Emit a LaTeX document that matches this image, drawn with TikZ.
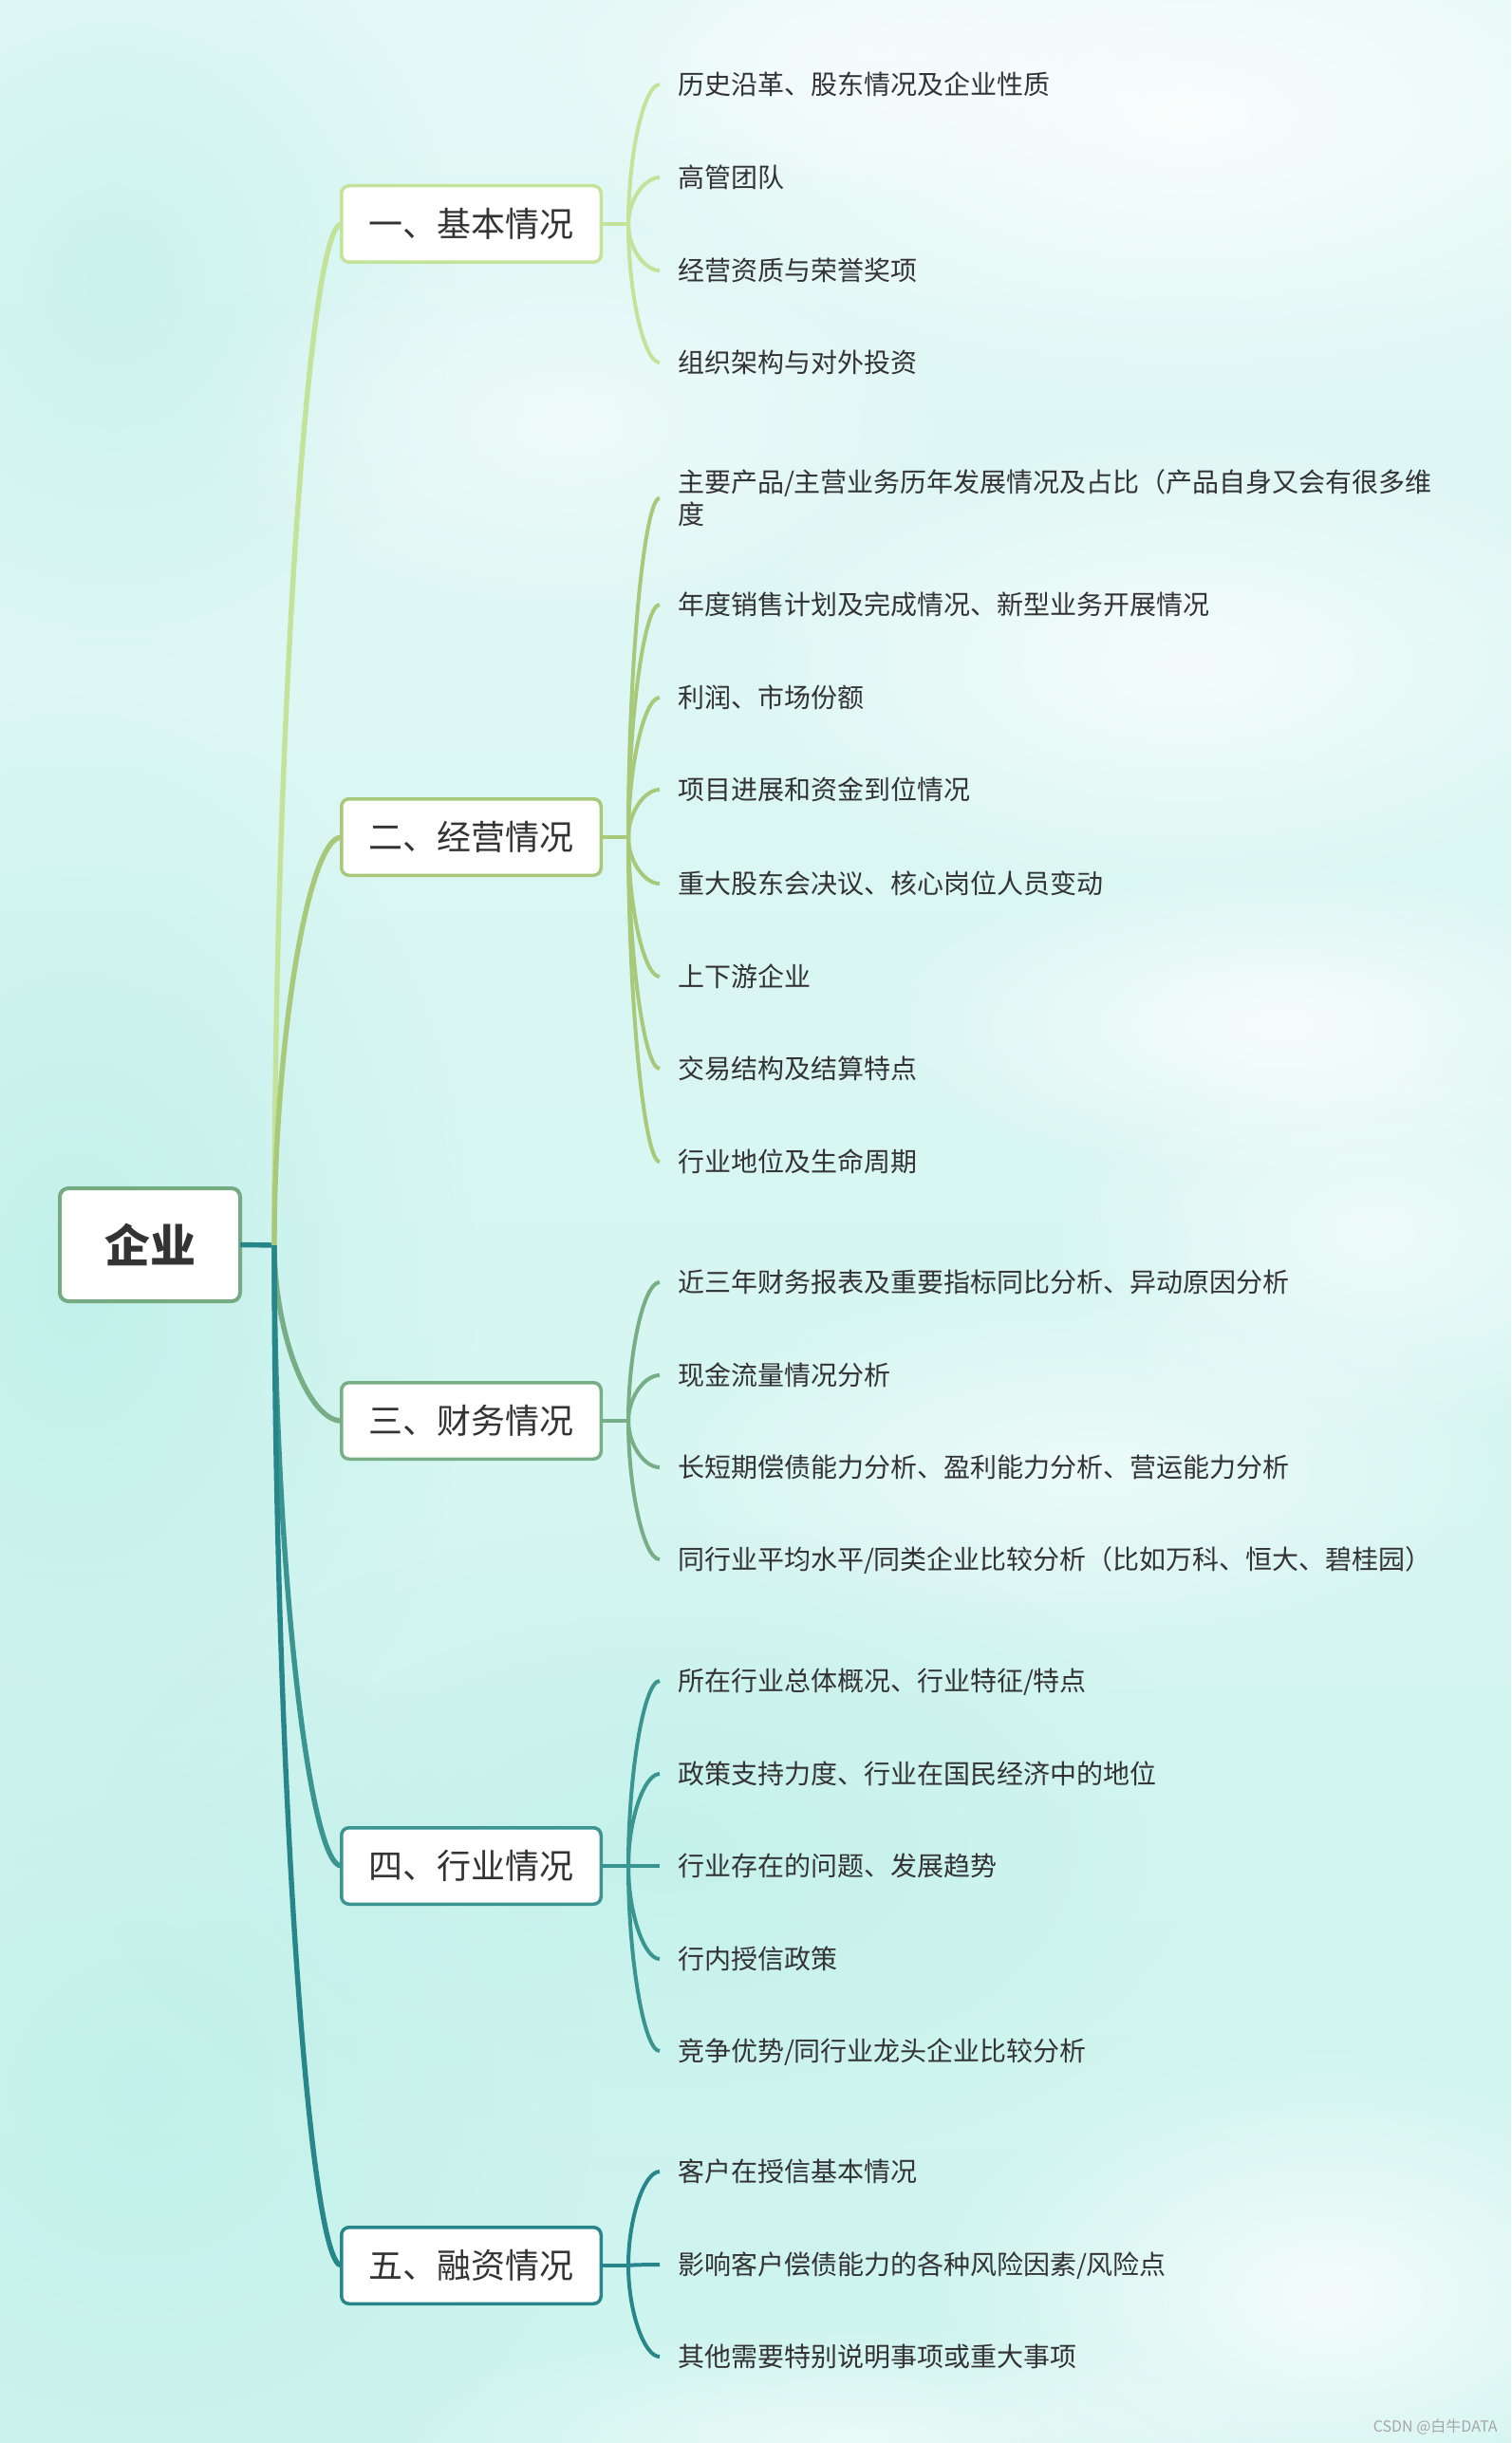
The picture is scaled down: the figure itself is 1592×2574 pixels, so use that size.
\documentclass[tikz,border=0pt]{standalone}
\usepackage{fontspec}
\setmainfont{Noto Sans CJK SC}
\usetikzlibrary{calc,fadings}

\definecolor{bgtop}{HTML}{E2F8F6}
\definecolor{bgmid}{HTML}{D3F4F0}
\definecolor{bgbot}{HTML}{CDF4EE}
\definecolor{cA}{HTML}{C3E29A}
\definecolor{cB}{HTML}{A8C87A}
\definecolor{cC}{HTML}{78AE86}
\definecolor{cD}{HTML}{3A9590}
\definecolor{cE}{HTML}{27868A}
\definecolor{rootc}{HTML}{76AA82}
\definecolor{txt}{HTML}{333333}
\definecolor{cyanish}{HTML}{BDEFE8}

\tikzfading[name=softblob, inner color=transparent!0, outer color=transparent!100]

\begin{document}
\begin{tikzpicture}[x=0.5pt,y=-0.5pt,
  rootbox/.style={draw=rootc, line width=2pt, fill=white, rounded corners=4.5pt,
    minimum width=95pt, minimum height=59.5pt, inner sep=0pt, outer sep=0pt,
    font=\fontsize{24}{28}\selectfont\bfseries, text=txt},
  branchbox/.style={draw=#1, line width=1.75pt, fill=white, rounded corners=4pt,
    minimum width=136.75pt, minimum height=40.25pt, inner sep=0pt, outer sep=0pt,
    font=\fontsize{18}{22}\selectfont, text=txt},
  leaf/.style={anchor=west, inner xsep=9.5pt, inner ysep=0pt, outer sep=0pt,
    font=\fontsize{14}{17}\selectfont, text=txt, text height=12.3pt, text depth=1.7pt},
  leaftwo/.style={anchor=west, inner xsep=9.5pt, inner ysep=0pt, outer sep=0pt,
    font=\fontsize{14}{17}\selectfont, text=txt, align=left},
  trunkline/.style={draw=#1, line width=2.7pt},
  leafline/.style={draw=#1, line width=2pt},
  cloud/.style={fill=white, fill opacity=#1, path fading=softblob},
  tint/.style={fill=cyanish, fill opacity=#1, path fading=softblob},
]
% background
\useasboundingbox (0,0) rectangle (1592,2574);
\shade[top color=bgtop, middle color=bgmid, bottom color=bgbot] (0,0) rectangle (1592,2574);
\fill[tint=0.8] (80,1350) ellipse [x radius=420, y radius=620];
\fill[tint=0.7] (150,2200) ellipse [x radius=480, y radius=480];
\fill[tint=0.6] (120,300) ellipse [x radius=360, y radius=400];
\fill[tint=0.6] (700,1950) ellipse [x radius=600, y radius=340];
\fill[cloud=0.8] (1250,120) ellipse [x radius=650, y radius=300];
\fill[cloud=0.5] (900,60) ellipse [x radius=400, y radius=160];
\fill[cloud=0.7] (1250,700) ellipse [x radius=500, y radius=240];
\fill[cloud=0.8] (1350,1080) ellipse [x radius=420, y radius=170];
\fill[cloud=0.6] (1450,1300) ellipse [x radius=340, y radius=220];
\fill[cloud=0.55] (1150,1550) ellipse [x radius=480, y radius=200];
\fill[cloud=0.8] (1400,2420) ellipse [x radius=420, y radius=260];
\fill[cloud=0.6] (900,2570) ellipse [x radius=500, y radius=120];
\fill[cloud=0.5] (600,450) ellipse [x radius=400, y radius=220];

% root and hubs
\node[rootbox] (root) at (158,1311.5) {企业};
\coordinate (hub) at (289,1312);

% branch boxes
\node[branchbox=cA] (b1) at (496.5,236) {一、基本情况};
\node[branchbox=cB] (b2) at (496.5,882) {二、经营情况};
\node[branchbox=cC] (b3) at (496.5,1497) {三、财务情况};
\node[branchbox=cD] (b4) at (496.5,1966) {四、行业情况};
\node[branchbox=cE] (b5) at (496.5,2387) {五、融资情况};

\coordinate (h1) at (662,236);
\coordinate (h2) at (662,882);
\coordinate (h3) at (662,1497);
\coordinate (h4) at (662,1966);
\coordinate (h5) at (662,2387);

% leaves
\node[leaf] (l11) at (695,89) {历史沿革、股东情况及企业性质};
\node[leaf] (l12) at (695,187) {高管团队};
\node[leaf] (l13) at (695,285) {经营资质与荣誉奖项};
\node[leaf] (l14) at (695,382) {组织架构与对外投资};

\node[leaftwo] (l21) at (695,525) {主要产品/主营业务历年发展情况及占比（产品自身又会有很多维\\度};
\node[leaf] (l22) at (695,637) {年度销售计划及完成情况、新型业务开展情况};
\node[leaf] (l23) at (695,735) {利润、市场份额};
\node[leaf] (l24) at (695,832) {项目进展和资金到位情况};
\node[leaf] (l25) at (695,931) {重大股东会决议、核心岗位人员变动};
\node[leaf] (l26) at (695,1029) {上下游企业};
\node[leaf] (l27) at (695,1126) {交易结构及结算特点};
\node[leaf] (l28) at (695,1224) {行业地位及生命周期};

\node[leaf] (l31) at (695,1351) {近三年财务报表及重要指标同比分析、异动原因分析};
\node[leaf] (l32) at (695,1449) {现金流量情况分析};
\node[leaf] (l33) at (695,1546) {长短期偿债能力分析、盈利能力分析、营运能力分析};
\node[leaf] (l34) at (695,1643) {同行业平均水平/同类企业比较分析（比如万科、恒大、碧桂园）};

\node[leaf] (l41) at (695,1771) {所在行业总体概况、行业特征/特点};
\node[leaf] (l42) at (695,1869) {政策支持力度、行业在国民经济中的地位};
\node[leaf] (l43) at (695,1966) {行业存在的问题、发展趋势};
\node[leaf] (l44) at (695,2064) {行内授信政策};
\node[leaf] (l45) at (695,2161) {竞争优势/同行业龙头企业比较分析};

\node[leaf] (l51) at (695,2288) {客户在授信基本情况};
\node[leaf] (l52) at (695,2386) {影响客户偿债能力的各种风险因素/风险点};
\node[leaf] (l53) at (695,2483) {其他需要特别说明事项或重大事项};

% trunk connectors
\draw[trunkline=cE] (root.east) -- (hub);
\foreach \b/\c in {b1/cA,b2/cB,b3/cC,b4/cD,b5/cE}{
  \draw[trunkline=\c] (hub) .. controls ($(hub)!0.5!(hub|-\b.west)$) and ($(\b.west)+(-35,0)$) .. (\b.west);
}

% branch connectors
\foreach \b/\h/\c/\ls in {b1/h1/cA/{l11,l12,l13,l14},
                          b2/h2/cB/{l21,l22,l23,l24,l25,l26,l27,l28},
                          b3/h3/cC/{l31,l32,l33,l34},
                          b4/h4/cD/{l41,l42,l43,l44,l45},
                          b5/h5/cE/{l51,l52,l53}}{
  \draw[leafline=\c] (\b.east) -- (\h);
  \foreach \l in \ls {
    \draw[leafline=\c] (\h) .. controls ($(\h)!0.5!(\h|-\l.west)$) and ($(\l.west)+(-16.5,0)$) .. (\l.west);
  }
}

% watermark
\node[font=\fontsize{8}{10}\selectfont, text=black!35, anchor=east, inner sep=0pt] (wm) at (1578,2557) {CSDN @白牛DATA};
\end{tikzpicture}
\end{document}
